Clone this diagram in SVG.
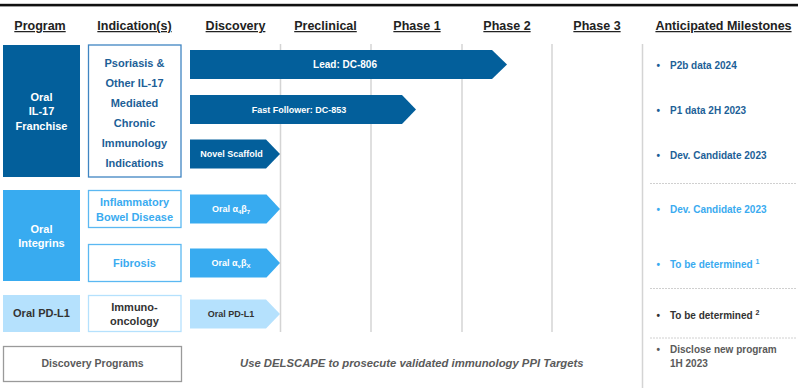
<svg xmlns="http://www.w3.org/2000/svg" width="800" height="388" viewBox="0 0 800 388">
<style>
text{font-family:"Liberation Sans",Arial,sans-serif;font-weight:bold;}
.hdr{font-size:12.5px;fill:#222;text-decoration:underline;text-anchor:middle;}
.grid{stroke:#d4d4d4;stroke-width:1.5;}
.sep{stroke:#d0d0d0;stroke-width:1;stroke-dasharray:2 1;}
.c{text-anchor:middle;}
.prog{font-size:11px;}
.ind{font-size:11px;}
.arr{font-size:9px;}
.ms{font-size:10px;}
.dk{fill:#035f9b;}
.lt{fill:#38abf0;}
.pl{fill:#b5e1fd;}
.tdk{fill:#1d5f97;}
.tlt{fill:#3aabf0;}
.tg{fill:#333;}
.tgr{fill:#5a5a5a;}
.w{fill:#fff;}
</style>
<rect x="0" y="3.8" width="798" height="2.6" fill="#111"/>
<g id="headers">
<text class="hdr" x="40" y="30">Program</text>
<text class="hdr" x="134.5" y="30">Indication(s)</text>
<text class="hdr" x="235.5" y="30">Discovery</text>
<text class="hdr" x="325.5" y="30">Preclinical</text>
<text class="hdr" x="417" y="30">Phase 1</text>
<text class="hdr" x="507" y="30">Phase 2</text>
<text class="hdr" x="597" y="30">Phase 3</text>
<text class="hdr" x="723.5" y="30">Anticipated Milestones</text>
</g>
<g id="connectors">
<line class="grid" x1="280.5" y1="44" x2="280.5" y2="332"/>
<line class="grid" x1="371" y1="44" x2="371" y2="332"/>
<line class="grid" x1="462" y1="44" x2="462" y2="332"/>
<line class="grid" x1="552" y1="44" x2="552" y2="332"/>
<line class="grid" x1="642.5" y1="44" x2="642.5" y2="388"/>
<line class="sep" x1="650" y1="183.5" x2="797" y2="183.5"/>
<line class="sep" x1="650" y1="288.5" x2="797" y2="288.5"/>
<line class="sep" x1="650" y1="338" x2="797" y2="338"/>
</g>
<g id="prog-il17">
<rect class="dk" x="3" y="45" width="77" height="132"/>
<text class="prog c w" x="41.5" y="100.7">Oral</text>
<text class="prog c w" x="41.5" y="115.2">IL-17</text>
<text class="prog c w" x="41.5" y="129.7">Franchise</text>
</g>
<g id="ind-il17">
<rect x="88.5" y="45" width="92.5" height="132" fill="#fff" stroke="#3f85c2" stroke-width="1.3"/>
<text class="ind c tdk" x="134.5" y="67.3">Psoriasis &amp;</text>
<text class="ind c tdk" x="134.5" y="87.2">Other IL-17</text>
<text class="ind c tdk" x="134.5" y="107.1">Mediated</text>
<text class="ind c tdk" x="134.5" y="127">Chronic</text>
<text class="ind c tdk" x="134.5" y="146.9">Immunology</text>
<text class="ind c tdk" x="134.5" y="166.8">Indications</text>
</g>
<g id="arr-lead">
<polygon class="dk" points="190,50 492,50 507,64.5 492,79 190,79"/>
<text class="c w" style="font-size:10px" x="345" y="68">Lead: DC-806</text>
</g>
<g id="arr-fast">
<polygon class="dk" points="190,95 402,95 416,109.5 402,124 190,124"/>
<text class="arr c w" x="299" y="112.7">Fast Follower: DC-853</text>
</g>
<g id="arr-novel">
<polygon class="dk" points="190,139.5 266,139.5 280,154 266,168.5 190,168.5"/>
<text class="arr c w" x="231.5" y="157.2">Novel Scaffold</text>
</g>
<g id="prog-integrins">
<rect class="lt" x="3" y="190" width="77" height="91"/>
<text class="prog c w" x="41.5" y="233">Oral</text>
<text class="prog c w" x="41.5" y="247.3">Integrins</text>
</g>
<g id="ind-ibd">
<rect x="88.5" y="190.5" width="92.5" height="37" fill="#fff" stroke="#5bb8f2" stroke-width="1.3"/>
<text class="ind c tlt" x="134.5" y="205.7">Inflammatory</text>
<text class="ind c tlt" x="134.5" y="220.7">Bowel Disease</text>
</g>
<g id="ind-fibrosis">
<rect x="88.5" y="244.5" width="92.5" height="37" fill="#fff" stroke="#5bb8f2" stroke-width="1.3"/>
<text class="ind c tlt" x="134.5" y="267">Fibrosis</text>
</g>
<g id="arr-a4b7">
<polygon class="lt" points="190,194.5 266.5,194.5 280,209 266.5,223.5 190,223.5"/>
<text class="arr c w" x="231" y="212">Oral α<tspan font-size="6" dy="2">4</tspan><tspan dy="-2">β</tspan><tspan font-size="6" dy="2">7</tspan></text>
</g>
<g id="arr-avbx">
<polygon class="lt" points="190,248.5 266.5,248.5 280,263 266.5,277.5 190,277.5"/>
<text class="arr c w" x="231" y="266">Oral α<tspan font-size="6" dy="2">v</tspan><tspan dy="-2">β</tspan><tspan font-size="6" dy="2">X</tspan></text>
</g>
<g id="prog-pdl1">
<rect class="pl" x="3" y="295" width="77" height="37"/>
<text class="prog c tg" x="41.5" y="317">Oral PD-L1</text>
</g>
<g id="ind-io">
<rect x="88.5" y="295.5" width="92.5" height="36" fill="#fff" stroke="#b5e1fd" stroke-width="1.3"/>
<text class="ind c tg" x="134.5" y="310.7">Immuno-</text>
<text class="ind c tg" x="134.5" y="325">oncology</text>
</g>
<g id="arr-pdl1">
<polygon class="pl" points="190,299.5 266,299.5 280,314 266,328.5 190,328.5"/>
<text class="arr c tg" x="231" y="317.2">Oral PD-L1</text>
</g>
<g id="prog-discovery">
<rect x="3.5" y="346.5" width="178" height="35" fill="#fff" stroke="#9a9a9a" stroke-width="1.3"/>
<text class="c tgr" style="font-size:10.5px" x="92.5" y="367">Discovery Programs</text>
</g>
<g id="delscape">
<text class="tgr" style="font-size:11.3px;font-style:italic" x="240" y="367">Use DELSCAPE to prosecute validated immunology PPI Targets</text>
</g>
<g id="milestones">
<text class="ms tdk" x="656.5" y="68.5">•</text><text class="ms tdk" x="670" y="68.5">P2b data 2024</text>
<text class="ms tdk" x="656.5" y="114.2">•</text><text class="ms tdk" x="670" y="114.2">P1 data 2H 2023</text>
<text class="ms tdk" x="656.5" y="159.2">•</text><text class="ms tdk" x="670" y="159.2">Dev. Candidate 2023</text>
<text class="ms tlt" x="656.5" y="212.8">•</text><text class="ms tlt" x="670" y="212.8">Dev. Candidate 2023</text>
<text class="ms tlt" x="656.5" y="267.5">•</text><text class="ms tlt" x="670" y="267.5">To be determined <tspan font-size="7" dy="-4">1</tspan></text>
<text class="ms tg" x="656.5" y="318.5">•</text><text class="ms tg" x="670" y="318.5">To be determined <tspan font-size="7" dy="-4">2</tspan></text>
<text class="ms tgr" x="656.5" y="353">•</text><text class="ms tgr" x="670" y="353">Disclose new program</text>
<text class="ms tgr" x="670" y="367">1H 2023</text>
</g>
</svg>
